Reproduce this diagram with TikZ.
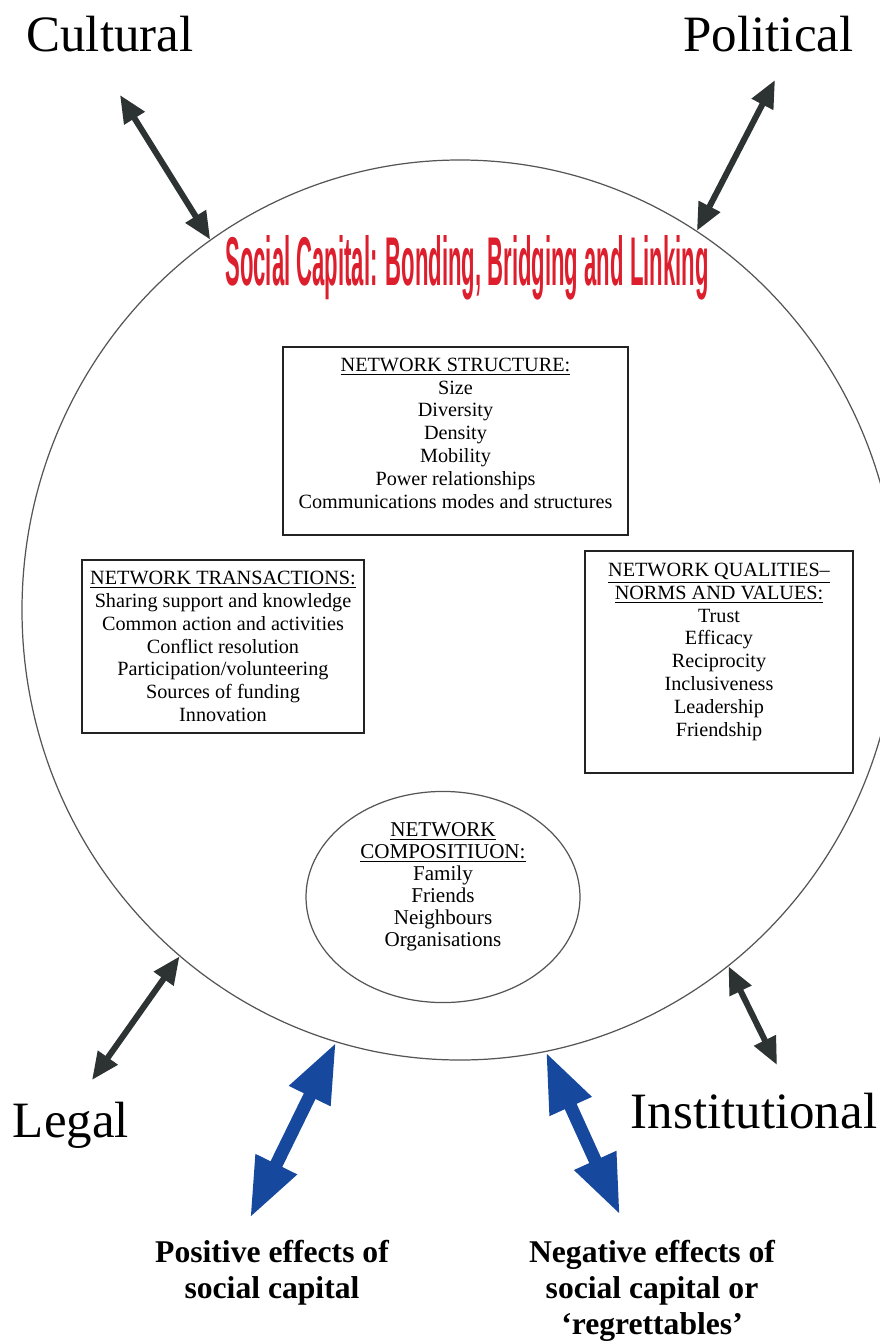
\documentclass[tikz,border=0pt]{standalone}
\usepackage{fontspec, graphicx}
\setmainfont{Liberation Serif}
\newfontfamily\headfont{Liberation Sans}
\definecolor{ringline}{RGB}{85, 85, 85}
\definecolor{boxline}{RGB}{35, 35, 35}
\definecolor{titlered}{RGB}{220, 30, 45}
\definecolor{linkgrey}{RGB}{45, 50, 50}
\definecolor{effectblue}{RGB}{22, 72, 158}
\usetikzlibrary{shapes.geometric, arrows.meta}
% empty last line, pushes the text up inside its frame
\newcommand{\padbelow}[1]{\\[#1]\rule{0pt}{0pt}}
\tikzset{
    netbox/.style={draw=boxline, line width=1.6pt, align=center,
        font=\fontsize{11.5}{13}\selectfont, inner sep=0pt},
    linkarrow/.style={linkgrey, line width=0.12cm,
        {Triangle[length=0.55cm, width=0.46cm]}-{Triangle[length=0.55cm, width=0.46cm]}},
    effectarrow/.style={effectblue, line width=0.26cm,
        {Triangle[length=1.2cm, width=0.85cm]}-{Triangle[length=1.2cm, width=0.85cm]}},
    forcelabel/.style={font=\fontsize{29}{34}\selectfont, anchor=base, inner sep=0pt},
    effect/.style={font=\bfseries\fontsize{18}{20.5}\selectfont, align=center,
        anchor=north, inner sep=0pt},
}

\begin{document}
\begin{tikzpicture}
    \useasboundingbox (0, 0) rectangle (17.58, -26.82);

    % the big ring and its heading
    \node[ellipse, draw=ringline, line width=0.7pt, minimum width=17.52cm,
        minimum height=18cm, inner sep=0pt] (capital) at (9.2, -12.2) {};
    \node[font=\headfont\bfseries, text=titlered, anchor=base, inner sep=0pt]
        (title) at (9.34, -5.7)
        {\resizebox{9.66cm}{1.0cm}{Social Capital: Bonding, Bridging and Linking}};

    \node[netbox, minimum width=6.9cm, minimum height=3.76cm] (structure)
        at (9.11, -8.82) {\underline{NETWORK STRUCTURE:}\\ Size\\ Diversity\\
        Density\\ Mobility\\ Power relationships\\
        Communications modes and structures\padbelow{-4pt}};
    \node[netbox, minimum width=5.64cm, minimum height=3.46cm] (transactions)
        at (4.46, -12.93) {\underline{NETWORK TRANSACTIONS:}\\
        Sharing support and knowledge\\ Common action and activities\\
        Conflict resolution\\ Participation/volunteering\\ Sources of funding\\
        Innovation};
    \node[netbox, minimum width=5.36cm, minimum height=4.44cm] (qualities)
        at (14.38, -13.24) {\underline{NETWORK QUALITIES--}\\
        \underline{NORMS AND VALUES:}\\ Trust\\ Efficacy\\ Reciprocity\\
        Inclusiveness\\ Leadership\\ Friendship\padbelow{1pt}};
    \node[ellipse, draw=ringline, line width=0.7pt, minimum width=5.48cm,
        minimum height=4.04cm, inner sep=0pt, align=center,
        font=\fontsize{12}{12.5}\selectfont] (composition) at (8.86, -17.94)
        {\underline{NETWORK}\\ \underline{COMPOSITIUON:}\\ Family\\ Friends\\
        Neighbours\\ Organisations\padbelow{2pt}};

    % outside forces
    \node[forcelabel] (cultural) at (2.2, -1.04) {Cultural};
    \node[forcelabel] (political) at (15.37, -1.04) {Political};
    \node[forcelabel] (legal) at (1.42, -22.74) {Legal};
    \node[forcelabel] (institutional) at (15.08, -22.56) {Institutional};

    \coordinate (culturaltip) at (2.4, -1.9);
    \coordinate (politicaltip) at (15.5, -1.6);
    \coordinate (legaltip) at (1.84, -21.6);
    \coordinate (institutionaltip) at (15.54, -21.3);
    \draw[linkarrow] (culturaltip) -- (capital.124.3);
    \draw[linkarrow] (politicaltip) -- (capital.58.7);
    \draw[linkarrow] (legaltip) -- (capital.231.7);
    \draw[linkarrow] (institutionaltip) -- (capital.307.5);

    % effects
    \node[effect] (positive) at (5.44, -24.8)
        {Positive effects of\\ social capital};
    \node[effect] (negative) at (13.04, -24.8)
        {Negative effects of\\ social capital or\\ `regrettables'};

    \coordinate (positivetip) at (5.0, -24.36);
    \coordinate (negativetip) at (12.4, -24.3);
    \draw[effectarrow] (positivetip) -- (capital.254.2);
    \draw[effectarrow] (negativetip) -- (capital.281.8);
\end{tikzpicture}
\end{document}
